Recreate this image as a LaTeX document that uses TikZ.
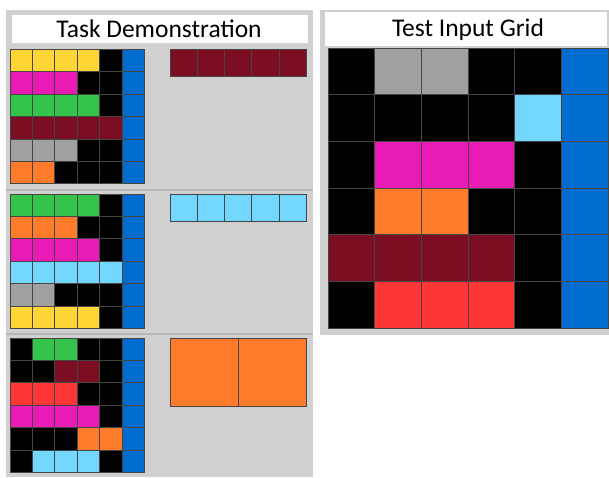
\documentclass[tikz,border=0pt]{standalone}
\usepackage{fontspec}
\setmainfont{Carlito}

% ARC colour palette
\definecolor{arcK}{HTML}{000000}
\definecolor{arcB}{HTML}{006CCF}
\definecolor{arcR}{HTML}{FF3636}
\definecolor{arcG}{HTML}{35C44A}
\definecolor{arcY}{HTML}{FDD535}
\definecolor{arcA}{HTML}{A0A0A0}
\definecolor{arcM}{HTML}{E81BB4}
\definecolor{arcO}{HTML}{FE7B2B}
\definecolor{arcC}{HTML}{73D6FD}
\definecolor{arcW}{HTML}{7B0E22}
\definecolor{panelgray}{HTML}{D0D0D0}
\definecolor{rulegray}{HTML}{B6B6B6}
\definecolor{cellline}{HTML}{454545}

% grid: x, y, cell size, rows
\newcommand{\arcgrid}[4]{%
  \foreach \gridrow [count=\rowno from 0] in {#4} {
    \foreach \cellc [count=\colno from 0] in \gridrow {
      \filldraw[cell, fill=arc\cellc] ({#1+\colno*#3},{#2+\rowno*#3}) rectangle ++(#3,#3);
    }
  }
}

\begin{document}
\begin{tikzpicture}[x=1pt, y=-1pt,
    cell/.style={draw=cellline, line width=0.8pt},
    titlebox/.style={fill=white},
    title/.style={font=\fontsize{25.5}{28}\selectfont, inner sep=0pt}]
  \useasboundingbox (0,0) rectangle (609,478);

  % Draw the panels
  \fill[panelgray] (6,10) rectangle (313,477);
  \fill[panelgray] (320,10) rectangle (609,335);
  \fill[titlebox] (12,15) rectangle (308,43);
  \fill[titlebox] (325,12) rectangle (607,46);
  \node[title] (demotitle) at (159,29) {Task Demonstration};
  \node[title] (testtitle) at (468,29.5) {Test Input Grid};

  % Separate the examples
  \foreach \y in {190,334} {
    \draw[rulegray, line width=1.5pt] (6,\y) -- (313,\y);
  }

  % Example 1
  \arcgrid{10}{49.5}{22.4}{{Y,Y,Y,Y,K,B},{M,M,M,K,K,B},{G,G,G,G,K,B},{W,W,W,W,W,B},{A,A,A,K,K,B},{O,O,K,K,K,B}}
  \arcgrid{170.5}{49.5}{27.1}{{W,W,W,W,W}}

  % Example 2
  \arcgrid{10}{194}{22.4}{{G,G,G,G,K,B},{O,O,O,K,K,B},{M,M,M,M,K,B},{C,C,C,C,C,B},{A,A,K,K,K,B},{Y,Y,Y,Y,K,B}}
  \arcgrid{170.5}{194}{27.1}{{C,C,C,C,C}}

  % Example 3
  \arcgrid{10}{338}{22.4}{{K,G,G,K,K,B},{K,K,W,W,K,B},{R,R,R,K,K,B},{M,M,M,M,K,B},{K,K,K,O,O,B},{K,C,C,C,K,B}}
  \arcgrid{170.5}{338}{68}{{O,O}}

  % Test input
  \arcgrid{328}{48}{46.7}{{K,A,A,K,K,B},{K,K,K,K,C,B},{K,M,M,M,K,B},{K,O,O,K,K,B},{W,W,W,W,K,B},{K,R,R,R,K,B}}
\end{tikzpicture}
\end{document}
